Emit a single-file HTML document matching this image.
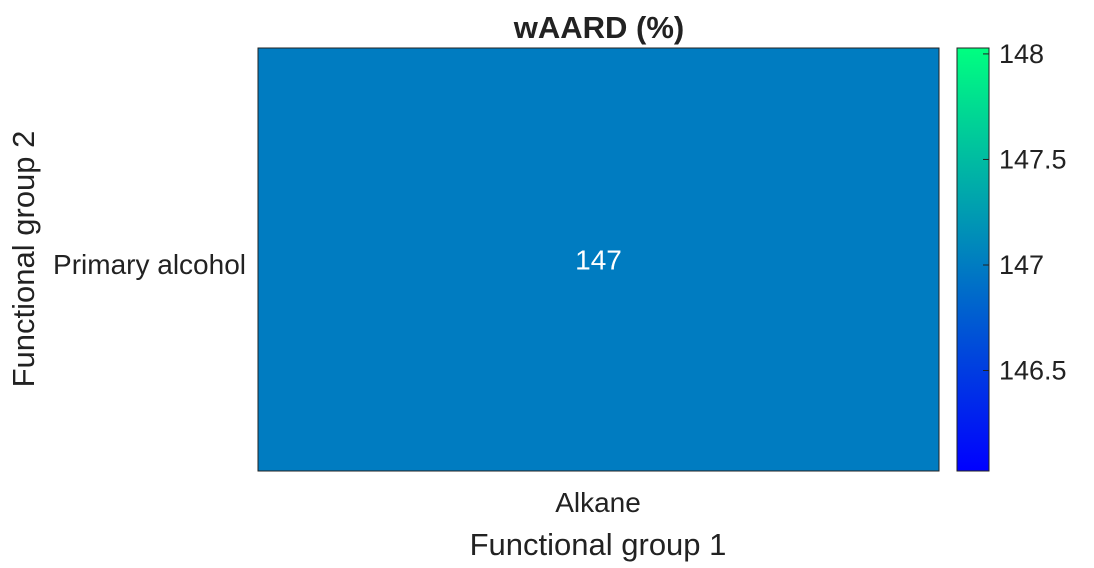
<!DOCTYPE html>
<html><head><meta charset="utf-8"><style>
body{margin:0;background:#fff;width:1094px;height:563px;overflow:hidden;font-family:"Liberation Sans",Arial,sans-serif}
</style></head><body>
<svg id="chart" width="1094" height="563" xmlns="http://www.w3.org/2000/svg">
<defs><linearGradient id="winter" x1="0" y1="1" x2="0" y2="0">
<stop offset="0" stop-color="#0000ff"/><stop offset="1" stop-color="#00ff80"/></linearGradient></defs>
<text x="599" y="38" text-anchor="middle" font-size="31" font-weight="bold" fill="#222">wAARD (%)</text>
<g id="cells"></g>
<rect x="957" y="48" width="32" height="423" fill="url(#winter)" stroke="#222" stroke-width="1"/>
<g id="cticks"></g>
<text x="598" y="512" text-anchor="middle" font-size="28" fill="#222">Alkane</text>
<text x="246" y="274" text-anchor="end" font-size="28" fill="#222">Primary alcohol</text>
<text x="598" y="555" text-anchor="middle" font-size="31" fill="#222">Functional group 1</text>
<text transform="translate(34,259) rotate(-90)" text-anchor="middle" font-size="31" fill="#222">Functional group 2</text>
</svg>
<script>
const xCategories=["Alkane"];
const yCategories=["Primary alcohol"];
const values=[[147]];
const cTicks=[146.5,147,147.5,148];
const cMin=146.024, cMax=148.028;
const ns="http://www.w3.org/2000/svg";
const X0=258,X1=939,Y0=48,Y1=471;
function colorOf(v){const t=Math.max(0,Math.min(1,(v-cMin)/(cMax-cMin)));return `rgb(0,${Math.round(255*t)},${Math.round(255-127*t)})`;}
function cY(v){return Y1-(v-cMin)/(cMax-cMin)*(Y1-Y0);}
const cw=(X1-X0)/xCategories.length, ch=(Y1-Y0)/yCategories.length;
const cells=document.getElementById('cells');
values.forEach((row,i)=>row.forEach((v,j)=>{
 const r=document.createElementNS(ns,'rect');
 r.setAttribute('x',X0+j*cw);r.setAttribute('y',Y0+i*ch);r.setAttribute('width',cw);r.setAttribute('height',ch);
 r.setAttribute('fill',colorOf(v));r.setAttribute('stroke','#222');r.setAttribute('stroke-width','1');
 
 
 cells.appendChild(r);
 const t=document.createElementNS(ns,'text');
 t.setAttribute('x',X0+(j+0.5)*cw);t.setAttribute('y',Y0+(i+0.5)*ch+10);t.setAttribute('text-anchor','middle');
 t.setAttribute('font-size','28');t.setAttribute('fill','#fff');t.textContent=v;
 
 
 cells.appendChild(t);
}));
const ct=document.getElementById('cticks');
cTicks.forEach(v=>{
 const y=cY(v);
 const l=document.createElementNS(ns,'line');
 l.setAttribute('x1',983);l.setAttribute('x2',989);l.setAttribute('y1',y);l.setAttribute('y2',y);l.setAttribute('stroke','#222');
 
 
 ct.appendChild(l);
 const t=document.createElementNS(ns,'text');
 t.setAttribute('x',999);t.setAttribute('y',y+9);t.setAttribute('font-size','27');t.setAttribute('fill','#222');t.textContent=v;
 
 
 ct.appendChild(t);
});
</script>
</body></html>
